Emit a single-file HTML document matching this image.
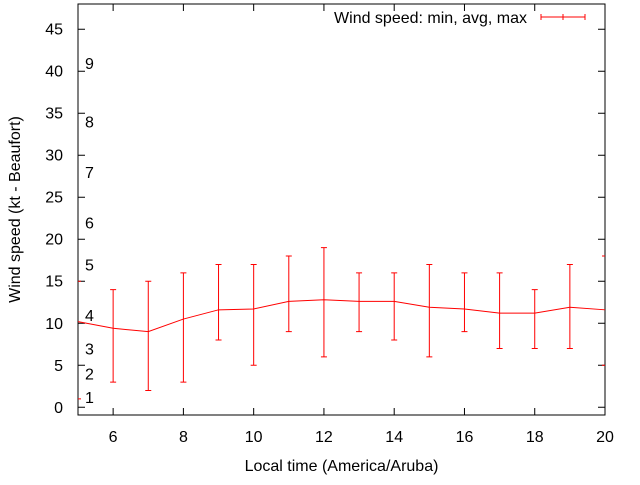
<!DOCTYPE html>
<html><head><meta charset="utf-8"><style>
body{margin:0;background:#fff}
svg text{font-family:"Liberation Sans",Arial,sans-serif;font-size:16px;fill:#000}
</style></head><body>
<svg id="c" width="640" height="480" xmlns="http://www.w3.org/2000/svg"></svg>
<script>
const hours=[5,6,7,8,9,10,11,12,13,14,15,16,17,18,19,20];
const avgSpeed=[10.2,9.4,9.0,10.5,11.6,11.7,12.6,12.8,12.6,12.6,11.9,11.7,11.2,11.2,11.9,11.6];
const minSpeed=[1,3,2,3,8,5,9,6,9,8,6,9,7,7,7,5];
const maxSpeed=[15,14,15,16,17,17,18,19,16,16,17,16,16,14,17,18];
const yTicks=[0,5,10,15,20,25,30,35,40,45];
const xTicks=[6,8,10,12,14,16,18,20];
const beaufortLabels=["1","2","3","4","5","6","7","8","9"];
const beaufortKt=[1.2,4,7,11,17,22,28,34,41];

const L=78,R=605,T=4,B=415,XMIN=5,XMAX=20,YMIN=-0.92,YMAX=48;
const sx=v=>L+(v-XMIN)/(XMAX-XMIN)*(R-L);
const sy=v=>B-(v-YMIN)/(YMAX-YMIN)*(B-T);
const svg=document.getElementById('c');
const NS='http://www.w3.org/2000/svg';
function mk(tag,attrs,txt){const e=document.createElementNS(NS,tag);for(const k in attrs)e.setAttribute(k,attrs[k]);if(txt!==undefined)e.textContent=txt;svg.appendChild(e);return e;}

let e=mk('rect',{x:L,y:T,width:R-L,height:B-T,fill:'none',stroke:'#000','stroke-width':1});


yTicks.forEach(v=>{
  const y=sy(v);
  let t=mk('path',{d:`M${L} ${y}H${L+7}M${R} ${y}H${R-7}`,stroke:'#000'});
  
  
  let l=mk('text',{x:L-15,y:y+5.5,'text-anchor':'end'},v);
  
  
});
xTicks.forEach(v=>{
  const x=sx(v);
  let t=mk('path',{d:`M${x} ${B}V${B-7}M${x} ${T}V${T+7}`,stroke:'#000'});
  
  
  let l=mk('text',{x:x,y:B+27,'text-anchor':'middle'},v);
  
  
});
beaufortLabels.forEach((s,i)=>{
  let l=mk('text',{x:85,y:sy(beaufortKt[i])+6},s);
  
  
});
let xt=mk('text',{x:(L+R)/2,y:471,'text-anchor':'middle'},'Local time (America/Aruba)');


let yt=mk('text',{x:0,y:0,'text-anchor':'middle',transform:`translate(20,${(T+B)/2}) rotate(-90)`},'Wind speed (kt - Beaufort)');



const cx=(x,a)=>`M${Math.max(L,x-3)} ${a}H${Math.min(R,x+3)}`;
hours.forEach((h,i)=>{
  const x=sx(h),y1=sy(minSpeed[i]),y2=sy(maxSpeed[i]);
  const d=(h===XMIN||h===XMAX)?`${cx(x,y1)}${cx(x,y2)}`:`M${x} ${y1}V${y2}${cx(x,y1)}${cx(x,y2)}`;
  let b=mk('path',{d:d,stroke:'#f00',fill:'none','stroke-width':1});
  
  
});
let pts=hours.map((h,i)=>`${sx(h)},${sy(avgSpeed[i])}`).join(' ');
let ln=mk('polyline',{points:pts,fill:'none',stroke:'#f00','stroke-width':1});



let lt=mk('text',{x:527,y:23,'text-anchor':'end'},'Wind speed: min, avg, max');


let ls=mk('path',{d:'M541 17H585M541 14V20M563 14V20M585 14V20',stroke:'#f00',fill:'none'});


</script>
</body></html>
